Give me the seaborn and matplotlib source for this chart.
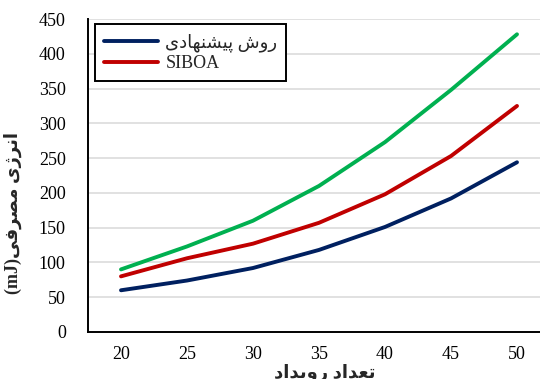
import matplotlib
matplotlib.use("Agg")
import matplotlib.pyplot as plt
import seaborn as sns
import pandas as pd

# ---- data ----
events = [20, 25, 30, 35, 40, 45, 50]
proposed = [60, 74, 92, 118, 151, 192, 244]
siboa = [80, 106, 127, 157, 198, 253, 325]
third = [90, 123, 160, 210, 273, 348, 428]
yticks = [0, 50, 100, 150, 200, 250, 300, 350, 400, 450]

name_proposed = "روش پیشنهادی"
name_siboa = "SIBOA"
ylabel_txt = "انرژی مصرفی"
ylabel_unit = "(mJ)"
xlabel_txt = "تعداد رویداد"

# ---- minimal Persian shaping (presentation forms + visual order) ----
FORMS = {
    'ا': ('\uFE8D', '\uFE8E'), 'د': ('\uFEA9', '\uFEAA'), 'ذ': ('\uFEAB', '\uFEAC'),
    'ر': ('\uFEAD', '\uFEAE'), 'ز': ('\uFEAF', '\uFEB0'), 'ژ': ('\uFB8A', '\uFB8B'),
    'و': ('\uFEED', '\uFEEE'),
    'ب': ('\uFE8F', '\uFE90', '\uFE91', '\uFE92'), 'پ': ('\uFB56', '\uFB57', '\uFB58', '\uFB59'),
    'ت': ('\uFE95', '\uFE96', '\uFE97', '\uFE98'), 'ث': ('\uFE99', '\uFE9A', '\uFE9B', '\uFE9C'),
    'ج': ('\uFE9D', '\uFE9E', '\uFE9F', '\uFEA0'), 'ح': ('\uFEA1', '\uFEA2', '\uFEA3', '\uFEA4'),
    'خ': ('\uFEA5', '\uFEA6', '\uFEA7', '\uFEA8'), 'س': ('\uFEB1', '\uFEB2', '\uFEB3', '\uFEB4'),
    'ش': ('\uFEB5', '\uFEB6', '\uFEB7', '\uFEB8'), 'ص': ('\uFEB9', '\uFEBA', '\uFEBB', '\uFEBC'),
    'ض': ('\uFEBD', '\uFEBE', '\uFEBF', '\uFEC0'), 'ع': ('\uFEC9', '\uFECA', '\uFECB', '\uFECC'),
    'ف': ('\uFED1', '\uFED2', '\uFED3', '\uFED4'), 'ق': ('\uFED5', '\uFED6', '\uFED7', '\uFED8'),
    'ک': ('\uFB8E', '\uFB8F', '\uFB90', '\uFB91'), 'ل': ('\uFEDD', '\uFEDE', '\uFEDF', '\uFEE0'),
    'م': ('\uFEE1', '\uFEE2', '\uFEE3', '\uFEE4'), 'ن': ('\uFEE5', '\uFEE6', '\uFEE7', '\uFEE8'),
    'ه': ('\uFEE9', '\uFEEA', '\uFEEB', '\uFEEC'), 'ی': ('\uFBFC', '\uFBFD', '\uFBFE', '\uFBFF'),
}


def shape(text):
    out = []
    n = len(text)
    for i, ch in enumerate(text):
        if ch not in FORMS:
            out.append(ch)
            continue
        f = FORMS[ch]
        prev = text[i - 1] if i > 0 else None
        nxt = text[i + 1] if i < n - 1 else None
        pj = prev in FORMS and len(FORMS[prev]) == 4
        nj = len(f) == 4 and nxt in FORMS
        if pj and nj:
            out.append(f[3])
        elif pj:
            out.append(f[1])
        elif nj:
            out.append(f[2])
        else:
            out.append(f[0])
    return ''.join(out)[::-1]


# ---- style ----
sns.set_theme(style="white")
plt.rcParams['font.family'] = ['Liberation Serif', 'DejaVu Sans']

fig = plt.figure(figsize=(5.4, 3.79), dpi=100)
ax = fig.add_axes([88 / 540, 47 / 379, 462 / 540, 313 / 379])

navy, red, green = "#002060", "#C00000", "#00B050"
df1 = pd.DataFrame({"x": events, "y": proposed})
df2 = pd.DataFrame({"x": events, "y": siboa})
df3 = pd.DataFrame({"x": events, "y": third})
sns.lineplot(data=df1, x="x", y="y", ax=ax, color=navy, lw=2.8, label=shape(name_proposed))
sns.lineplot(data=df2, x="x", y="y", ax=ax, color=red, lw=2.8, label=name_siboa)
sns.lineplot(data=df3, x="x", y="y", ax=ax, color=green, lw=2.8, label="_third")

ax.set_xlim(17.5, 52.5)
ax.set_ylim(0, 450)
ax.set_xticks(events)
ax.set_yticks(yticks)
ax.tick_params(axis='both', length=0, labelsize=13, colors='black', pad=10)
ax.tick_params(axis='y', pad=16)
ax.grid(axis='y', color='#D9D9D9', lw=1.1)
ax.set_axisbelow(True)
for s in ['top', 'right']:
    ax.spines[s].set_visible(False)
for s in ['left', 'bottom']:
    ax.spines[s].set_color('black')
    ax.spines[s].set_linewidth(1.4)

ax.set_ylabel(ylabel_unit + shape(ylabel_txt), fontsize=13, fontweight='bold',
              family=['Liberation Serif', 'DejaVu Sans'])
ax.yaxis.set_label_coords(-0.143, 0.38)
ax.set_xlabel(shape(xlabel_txt), fontsize=13, fontweight='bold',
              family=['Liberation Serif', 'DejaVu Sans'], va='top')
ax.xaxis.set_label_coords(0.513, -0.1)

leg = ax.legend(loc='upper left', bbox_to_anchor=(0.015, 0.984), borderaxespad=0,
                fontsize=13, frameon=True, fancybox=False, handlelength=3.0,
                handletextpad=0.4, labelspacing=0.2, borderpad=0.5)
leg.get_frame().set_edgecolor('black')
leg.get_frame().set_linewidth(1.4)
leg.get_frame().set_alpha(1)

fig.savefig("out.png", dpi=100)
